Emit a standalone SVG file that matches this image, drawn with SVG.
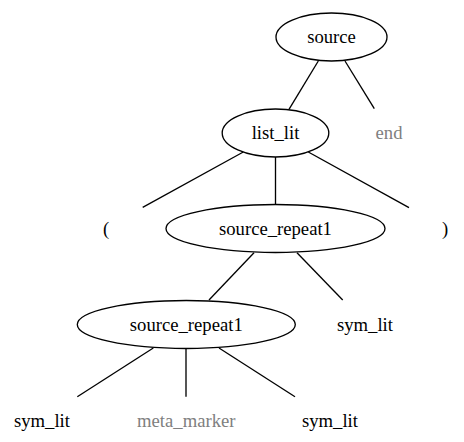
<svg xmlns="http://www.w3.org/2000/svg" width="464" height="442" viewBox="0 0 464 442">
<style>
.n ellipse{fill:none;stroke:#000;stroke-width:1.33}
text{font-family:"Liberation Serif","Times New Roman",serif;font-size:18.67px;text-anchor:middle;fill:#000}
text.g{fill:#808080}
#edges line{stroke:#000;stroke-width:1.33}
</style>
<rect width="464" height="442" fill="#fff"/>
<g id="edges">
<line x1="318.3" y1="61" x2="289" y2="109.3"/>
<line x1="345" y1="61" x2="374.3" y2="108.7"/>
<line x1="243.3" y1="152" x2="142.7" y2="207.3"/>
<line x1="275.5" y1="157" x2="275.5" y2="204"/>
<line x1="308.3" y1="152" x2="409" y2="207.7"/>
<line x1="254" y1="252.7" x2="209" y2="300"/>
<line x1="297" y1="252.7" x2="342.7" y2="300"/>
<line x1="153.3" y1="348" x2="77.3" y2="396.7"/>
<line x1="186" y1="348.7" x2="186" y2="396.7"/>
<line x1="219" y1="348" x2="295" y2="396.7"/>
</g>
<g id="source" class="n"><ellipse cx="331.5" cy="37" rx="55.5" ry="24"/><text x="331.5" y="43">source</text></g>
<g id="list_lit" class="n"><ellipse cx="275.5" cy="133" rx="53.3" ry="24"/><text x="275.5" y="139">list_lit</text></g>
<g id="end" class="n"><text class="g" x="389" y="139">end</text></g>
<g id="lparen" class="n"><text x="106" y="234.5">(</text></g>
<g id="source_repeat1_a" class="n"><ellipse cx="275.5" cy="228.5" rx="109.5" ry="24"/><text x="275.5" y="234.5">source_repeat1</text></g>
<g id="rparen" class="n"><text x="445" y="234.5">)</text></g>
<g id="source_repeat1_b" class="n"><ellipse cx="186.3" cy="324.5" rx="109" ry="24"/><text x="186.3" y="330.5">source_repeat1</text></g>
<g id="sym_lit_a" class="n"><text x="365" y="330.5">sym_lit</text></g>
<g id="sym_lit_b" class="n"><text x="42" y="426.5">sym_lit</text></g>
<g id="meta_marker" class="n"><text class="g" x="186.3" y="426.5">meta_marker</text></g>
<g id="sym_lit_c" class="n"><text x="330" y="426.5">sym_lit</text></g>
</svg>
